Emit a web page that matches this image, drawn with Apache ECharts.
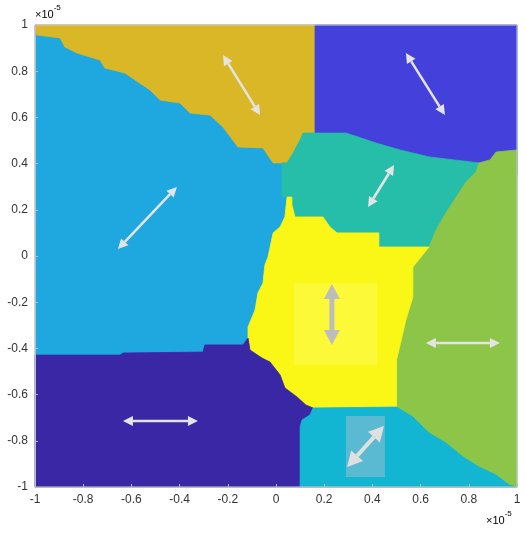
<!DOCTYPE html>
<html>
<head>
<meta charset="utf-8">
<script src="https://cdn.jsdelivr.net/npm/echarts@6/dist/echarts.min.js"></script>
<style>
  html, body { margin: 0; padding: 0; background: #ffffff; }
  #chart { width: 526px; height: 535px; }
</style>
</head>
<body>
<div id="chart"></div>
<script>
// Axis ticks (units of 1e-5)
const xTicks = [-1, -0.8, -0.6, -0.4, -0.2, 0, 0.2, 0.4, 0.6, 0.8, 1];
const yTicks = [-1, -0.8, -0.6, -0.4, -0.2, 0, 0.2, 0.4, 0.6, 0.8, 1];

// Region outlines, [x, y] vertices in axis units
const skyRegion = [[-1, 1], [1, 1], [1, -1], [-1, -1]];

const goldRegion = [
  [-1, 1], [0.162, 1], [0.162, 0.532], [0.112, 0.532], [0.100, 0.502],
  [0.071, 0.446], [0.046, 0.403], [-0.012, 0.403], [-0.054, 0.468],
  [-0.158, 0.472], [-0.220, 0.558], [-0.274, 0.610], [-0.357, 0.619],
  [-0.398, 0.662], [-0.481, 0.675], [-0.523, 0.719], [-0.585, 0.762],
  [-0.627, 0.792], [-0.710, 0.814], [-0.730, 0.848], [-0.826, 0.879],
  [-0.876, 0.905], [-0.896, 0.944], [-0.992, 0.957], [-1, 0.978]
];

const indigoRegion = [[0.162, 1], [1, 1], [1, 0.351], [0.162, 0.351]];

const tealRegion = [
  [0.112, 0.532], [0.162, 0.532], [0.290, 0.532], [0.353, 0.511],
  [0.415, 0.489], [0.515, 0.459], [0.635, 0.429], [0.842, 0.403],
  [0.830, 0.364], [0.788, 0.320], [0.747, 0.255], [0.705, 0.186],
  [0.664, 0.113], [0.635, 0.039], [0.427, 0.039], [0.427, 0.100],
  [0.253, 0.100], [0.224, 0.126], [0.195, 0.169], [0.079, 0.169],
  [0.066, 0.221], [0.066, 0.255], [0.046, 0.255], [0.025, 0.255],
  [0.025, 0.403], [0.046, 0.403], [0.071, 0.446], [0.100, 0.502]
];

const greenRegion = [
  [0.842, 0.403], [0.888, 0.416], [0.913, 0.450], [1, 0.459], [1, -1],
  [0.967, -0.991], [0.913, -0.948], [0.842, -0.913], [0.776, -0.870],
  [0.705, -0.810], [0.635, -0.766], [0.568, -0.697], [0.5, -0.654],
  [0.5, -0.450], [0.515, -0.385], [0.539, -0.277], [0.568, -0.177],
  [0.568, -0.048], [0.635, 0.039], [0.664, 0.113], [0.705, 0.186],
  [0.747, 0.255], [0.788, 0.320], [0.830, 0.364]
];

const yellowRegion = [
  [0.046, 0.255], [0.066, 0.255], [0.066, 0.221], [0.079, 0.169],
  [0.195, 0.169], [0.224, 0.126], [0.253, 0.100], [0.427, 0.100],
  [0.427, 0.039], [0.635, 0.039], [0.568, -0.048], [0.568, -0.177],
  [0.539, -0.277], [0.515, -0.385], [0.5, -0.450], [0.5, -0.654],
  [0.154, -0.658], [0.124, -0.645], [0.087, -0.610], [0.037, -0.571],
  [0.017, -0.515], [-0.025, -0.459], [-0.058, -0.442], [-0.108, -0.407],
  [-0.116, -0.355], [-0.116, -0.307], [-0.087, -0.234], [-0.075, -0.160],
  [-0.054, -0.117], [-0.046, -0.039], [-0.033, -0.004], [-0.012, 0.100],
  [0.017, 0.126], [0.037, 0.169]
];

const purpleRegion = [
  [-1, -0.429], [-0.647, -0.429], [-0.635, -0.420], [-0.303, -0.416],
  [-0.295, -0.385], [-0.137, -0.385], [-0.116, -0.355], [-0.108, -0.407],
  [-0.058, -0.442], [-0.025, -0.459], [0.017, -0.515], [0.037, -0.571],
  [0.087, -0.610], [0.124, -0.645], [0.154, -0.658], [0.141, -0.688],
  [0.108, -0.710], [0.100, -0.740], [0.100, -1], [-1, -1]
];

const cyanRegion = [
  [0.100, -1], [0.100, -0.740], [0.108, -0.710], [0.141, -0.688],
  [0.154, -0.658], [0.5, -0.654], [0.568, -0.697], [0.635, -0.766],
  [0.705, -0.810], [0.776, -0.870], [0.842, -0.913], [0.913, -0.948],
  [0.967, -0.991], [1, -1]
];

const regionOutlines = [skyRegion, goldRegion, indigoRegion, tealRegion, greenRegion, yellowRegion, purpleRegion, cyanRegion];
const regionColors = ['#1FA7DF', '#D9B726', '#4440DC', '#26BEA8', '#8CC548', '#FAF716', '#3A27A6', '#12B6D2'];

// Highlight panels: [xMin, yMin, xMax, yMax]
const panelBounds = [[0.075, -0.472, 0.419, -0.117], [0.290, -0.957, 0.452, -0.693]];
const panelColors = ['rgba(255,255,120,0.35)', 'rgba(150,190,210,0.55)'];

// Double-headed arrows: [x0, y0, x1, y1]
const arrowEnds = [
  [-0.220, 0.870, -0.066, 0.610],
  [0.539, 0.879, 0.701, 0.610],
  [-0.656, 0.030, -0.411, 0.299],
  [0.382, 0.212, 0.490, 0.394],
  [0.232, -0.121, 0.232, -0.385],
  [0.622, -0.377, 0.929, -0.377],
  [-0.635, -0.714, -0.324, -0.714],
  [0.295, -0.913, 0.448, -0.736]
];
const arrowColors = ['#E4E4E4', '#E4E4E4', '#E4E4E4', '#E4E4E4', '#BDBDBD', '#E4E4E4', '#E4E4E4', '#E0E0E0'];
const arrowWeights = [2.5, 2.5, 2.5, 2.5, 5, 2.5, 2.5, 4];

const chart = echarts.init(document.getElementById('chart'), null, { renderer: 'canvas' });

const fmt = v => String(parseFloat(v.toFixed(1)));

function renderRegion(params, api) {
  const pts = regionOutlines[params.dataIndex].map(p => api.coord(p));
  const c = regionColors[params.dataIndex];
  return { type: 'polygon', shape: { points: pts }, style: { fill: c, stroke: c, lineWidth: 0.8 } };
}

function renderPanel(params, api) {
  const b = panelBounds[params.dataIndex];
  const p0 = api.coord([b[0], b[3]]);
  const p1 = api.coord([b[2], b[1]]);
  return { type: 'rect', shape: { x: p0[0], y: p0[1], width: p1[0] - p0[0], height: p1[1] - p0[1] },
           style: { fill: panelColors[params.dataIndex] } };
}

function renderArrow(params, api) {
  const a = arrowEnds[params.dataIndex];
  const p0 = api.coord([a[0], a[1]]);
  const p1 = api.coord([a[2], a[3]]);
  const w = arrowWeights[params.dataIndex];
  const color = arrowColors[params.dataIndex];
  const dx = p1[0] - p0[0], dy = p1[1] - p0[1];
  const len = Math.hypot(dx, dy);
  const ux = dx / len, uy = dy / len, nx = -uy, ny = ux;
  const headL = w > 3 ? 15 : 10;
  const headW = w > 3 ? 8 : 5;
  const b0 = [p0[0] + ux * headL, p0[1] + uy * headL];
  const b1 = [p1[0] - ux * headL, p1[1] - uy * headL];
  const tri = (tip, base) => [tip, [base[0] + nx * headW, base[1] + ny * headW], [base[0] - nx * headW, base[1] - ny * headW]];
  return {
    type: 'group',
    children: [
      { type: 'line', shape: { x1: b0[0], y1: b0[1], x2: b1[0], y2: b1[1] }, style: { stroke: color, lineWidth: w } },
      { type: 'polygon', shape: { points: tri(p0, b0) }, style: { fill: color } },
      { type: 'polygon', shape: { points: tri(p1, b1) }, style: { fill: color } }
    ]
  };
}

const axisText = { color: '#333333', fontSize: 12, fontFamily: 'Liberation Sans, Arial, sans-serif' };

chart.setOption({
  animation: false,
  grid: { left: 35, top: 25, right: 9, bottom: 48, show: true, borderColor: '#cfcfcf', borderWidth: 1, z: 10 },
  xAxis: {
    type: 'value', min: xTicks[0], max: xTicks[xTicks.length - 1], interval: 0.2,
    axisLine: { show: true, onZero: false, lineStyle: { color: '#bdbdbd', width: 1 } },
    axisTick: { show: true, inside: true, length: 3, lineStyle: { color: '#bdbdbd' } },
    splitLine: { show: false },
    axisLabel: Object.assign({ margin: 7, formatter: fmt }, axisText),
    z: 10
  },
  yAxis: {
    type: 'value', min: yTicks[0], max: yTicks[yTicks.length - 1], interval: 0.2,
    axisLine: { show: true, onZero: false, lineStyle: { color: '#bdbdbd', width: 1 } },
    axisTick: { show: true, inside: true, length: 3, lineStyle: { color: '#bdbdbd' } },
    splitLine: { show: false },
    axisLabel: Object.assign({ margin: 7, formatter: fmt }, axisText),
    z: 10
  },
  series: [
    { type: 'custom', renderItem: renderRegion, data: regionOutlines.map((_, i) => [i]), silent: true, z: 1 },
    { type: 'custom', renderItem: renderPanel, data: panelBounds.map((_, i) => [i]), silent: true, z: 2 },
    { type: 'custom', renderItem: renderArrow, data: arrowEnds.map((_, i) => [i]), silent: true, z: 3 }
  ],
  graphic: [
    {
      type: 'text', left: 35, top: 4,
      style: {
        text: '{a|×10}{b|-5}',
        rich: {
          a: { fontSize: 11, color: '#555', fontFamily: 'Liberation Sans, Arial, sans-serif', verticalAlign: 'bottom', lineHeight: 16 },
          b: { fontSize: 8, color: '#555', fontFamily: 'Liberation Sans, Arial, sans-serif', verticalAlign: 'top', lineHeight: 16 }
        }
      }
    },
    {
      type: 'text', left: 486, top: 510,
      style: {
        text: '{a|×10}{b|-5}',
        rich: {
          a: { fontSize: 11, color: '#555', fontFamily: 'Liberation Sans, Arial, sans-serif', verticalAlign: 'bottom', lineHeight: 16 },
          b: { fontSize: 8, color: '#555', fontFamily: 'Liberation Sans, Arial, sans-serif', verticalAlign: 'top', lineHeight: 16 }
        }
      }
    }
  ]
});
</script>
</body>
</html>
